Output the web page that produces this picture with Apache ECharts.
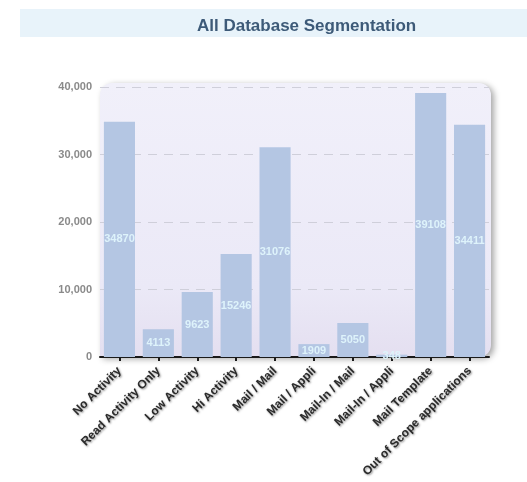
<!DOCTYPE html>
<html><head><meta charset="utf-8">
<script src="https://cdn.jsdelivr.net/npm/echarts@6/dist/echarts.min.js"></script>
<style>html,body{margin:0;padding:0;background:#fff}#c{width:527px;height:482px}</style>
</head><body><div id="c"></div>
<script>
const categories = ['No Activity','Read Activity Only','Low Activity','Hi Activity','Mail / Mail','Mail / Appli','Mail-In / Mail','Mail-In / Appli','Mail Template','Out of Scope applications'];
const values = [34870, 4113, 9623, 15246, 31076, 1909, 5050, 348, 39108, 34411];
const yTicks = [0, 10000, 20000, 30000, 40000];

const G = {left: 100, right: 38, top: 87, bottom: 125};
const W = 527, H = 482;
const chart = echarts.init(document.getElementById('c'), null, {renderer: 'canvas'});
chart.setOption({
  animation: false,
  title: {
    text: 'All Database Segmentation',
    left: 192, top: 13,
    textStyle: {color: '#3d5a78', fontSize: 17, fontWeight: 'bold', fontFamily: 'Liberation Sans'}
  },
  graphic: [
    {type: 'rect', z: -10, shape: {x: 20, y: 9, width: W - 20, height: 28}, style: {fill: '#e8f3fa'}},
    {type: 'rect', z: -5, shape: {x: G.left, y: G.top - 4, width: W - G.left - G.right + 2, height: H - G.bottom - G.top + 4, r: [12, 12, 12, 0]},
      style: {
        fill: {type: 'linear', x: 0, y: 0, x2: 0, y2: 1, colorStops: [
          {offset: 0, color: '#f1f0fa'}, {offset: 0.75, color: '#ebe9f7'}, {offset: 1, color: '#e4dff0'}]},
        shadowBlur: 6, shadowOffsetX: 3, shadowOffsetY: 2, shadowColor: 'rgba(0,0,0,0.35)'
      }}
  ],
  grid: {left: G.left, right: G.right, top: G.top, bottom: G.bottom, containLabel: false},
  xAxis: {
    type: 'category', data: categories,
    axisLine: {lineStyle: {color: '#1a1a1a', width: 2}},
    axisTick: {show: true, alignWithLabel: true, length: 4, lineStyle: {color: '#1a1a1a', width: 2}},
    axisLabel: {rotate: 45, interval: 0, fontSize: 12, fontWeight: 'bold', color: '#2a2a2a', fontFamily: 'Liberation Sans',
      textShadowColor: 'rgba(0,0,0,0.45)', textShadowBlur: 2, textShadowOffsetX: 1, textShadowOffsetY: 1, margin: 12}
  },
  yAxis: {
    type: 'value', min: yTicks[0], max: yTicks[yTicks.length - 1], interval: 10000,
    axisLine: {show: false}, axisTick: {show: false},
    axisLabel: {color: '#8a8a8a', fontSize: 11, fontWeight: 'bold', fontFamily: 'Liberation Sans', margin: 8,
      formatter: v => v.toLocaleString('en-US')},
    splitLine: {show: true, lineStyle: {color: '#cfcfda', type: [9, 7], width: 1}}
  },
  series: [{
    type: 'bar', data: values, barCategoryGap: '20%',
    itemStyle: {color: '#b4c6e3'},
    label: {show: true, position: 'inside', color: '#def3fb', fontSize: 11, fontWeight: 'bold', fontFamily: 'Liberation Sans'}
  }]
});
</script></body></html>
